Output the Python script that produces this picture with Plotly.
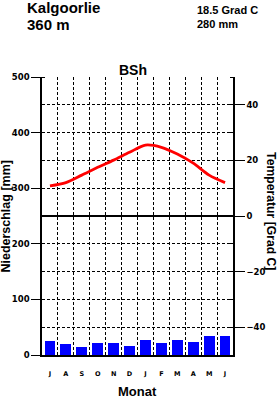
import plotly.graph_objects as go

months = ['J', 'A', 'S', 'O', 'N', 'D', 'J', 'F', 'M', 'A', 'M', 'J']
precip = [25, 20, 14, 21, 21, 16, 27, 21, 27, 23, 34, 34]
temp = [10.8, 12.0, 14.7, 17.5, 20.1, 22.9, 25.5, 24.7, 22.3, 19.0, 14.7, 12.0]
station = "Kalgoorlie"
elevation = "360 m"
mean_temp = "18.5 Grad C"
total_precip = "280 mm"
climate = "BSh"

W, H = 277, 399
L, R, T, B = 42, 41, 77, 44
PW, PH = W - L - R, H - T - B

def px(x):
    return (x - L) / PW

def py(y):
    return (H - B - y) / PH

xc = [i + 0.5 for i in range(len(months))]
TF = "Liberation Sans"
NF = "DejaVu Sans"
DASH = "3px,2px"

fig = go.Figure()
fig.add_trace(go.Bar(x=xc, y=precip, width=0.68, marker=dict(color="#0000FF", line=dict(width=0)),
                     yaxis="y", showlegend=False))
fig.add_trace(go.Scatter(x=xc, y=temp, mode="lines", line=dict(color="#FF0000", width=2.8, shape="spline", smoothing=0.8),
                         yaxis="y2", showlegend=False))

fig.update_layout(
    width=W, height=H,
    margin=dict(l=L, r=R, t=T, b=B, pad=0),
    plot_bgcolor="white", paper_bgcolor="white",
    xaxis=dict(range=[0, 12], tickmode="array", tickvals=xc, ticktext=months,
               ticks="", showgrid=False, zeroline=False,
               showline=True, linecolor="black", linewidth=1.5,
               ticklabelstandoff=11,
               tickfont=dict(family=NF, size=6.5, color="black", weight="bold"),
               minor=dict(tickmode="array", tickvals=list(range(1, 12)), showgrid=True,
                          gridcolor="black", gridwidth=1, griddash=DASH, ticks=""),
               fixedrange=True),
    yaxis=dict(range=[0, 500], tickmode="array", tickvals=[0, 100, 200, 300, 400, 500],
               ticks="outside", ticklen=9, tickcolor="black", tickwidth=1,
               showgrid=True, gridcolor="black", gridwidth=1, griddash=DASH,
               zeroline=False, showline=True, linecolor="black", linewidth=1.5,
               tickfont=dict(family=NF, size=8.5, color="black", weight="bold"),
               minor=dict(dtick=50, tick0=0, showgrid=True, gridcolor="black", gridwidth=1,
                          griddash=DASH, ticks="inside", ticklen=3, tickcolor="black"),
               fixedrange=True),
    yaxis2=dict(range=[-50, 50], overlaying="y", side="right", tickmode="array",
                tickvals=[-40, -20, 0, 20, 40],
                ticks="outside", ticklen=10, tickcolor="black", tickwidth=1,
                showgrid=False, zeroline=True, zerolinecolor="black", zerolinewidth=1.5,
                showline=True, linecolor="black", linewidth=1.5,
                tickfont=dict(family=NF, size=8.5, color="black", weight="bold"),
                minor=dict(dtick=10, tick0=0, ticks="inside", ticklen=3, tickcolor="black", showgrid=False),
                fixedrange=True),
    bargap=0,
)

def ann(text, x, y, size, xanchor="left", angle=0):
    fig.add_annotation(text=text, xref="paper", yref="paper", x=px(x), y=py(y),
                       xanchor=xanchor, yanchor="middle", showarrow=False, textangle=angle,
                       borderpad=0,
                       font=dict(family=TF, size=size, color="black", weight="bold"))

ann(station, 26, 7, 15)
ann(elevation, 26, 24.5, 15)
ann(mean_temp, 198, 10.5, 11)
ann(total_precip, 198, 23.7, 11)
ann(climate, 134.5, 70, 14, xanchor="center")
ann("Monat", 139, 391, 13, xanchor="center")
ann("Niederschlag [mm]", 5, 216, 12.5, xanchor="center", angle=-90)
ann("Temperatur [Grad C]", 274.5, 211, 12.2, xanchor="center", angle=90)

fig.write_html("out.html", config={"displayModeBar": False})
